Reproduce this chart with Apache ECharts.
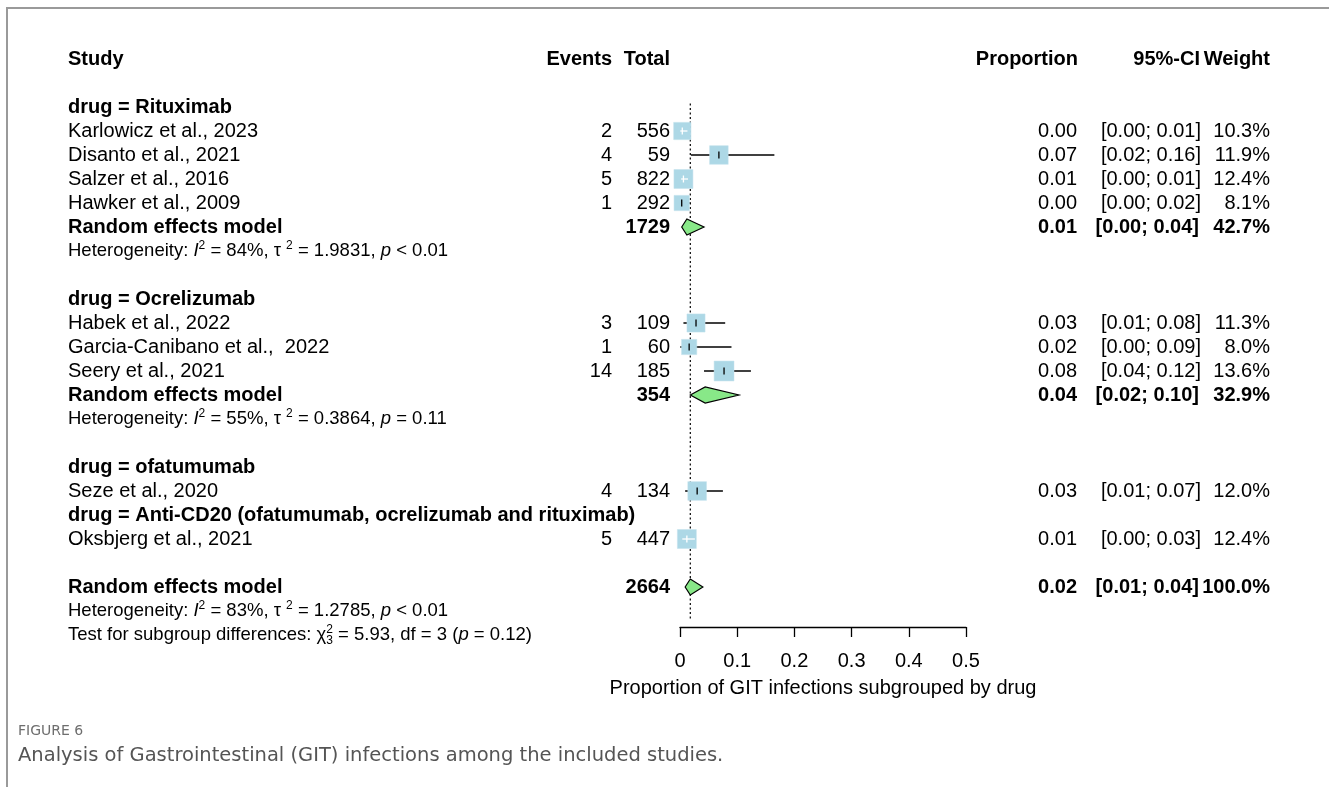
<!DOCTYPE html>
<html lang="en">
<head>
<meta charset="UTF-8">
<title>GIT infections forest plot</title>
<script src="https://cdn.jsdelivr.net/npm/echarts@6/dist/echarts.min.js"></script>
<style>
  html, body { margin: 0; width: 100%; height: 100%; background: #fff; }
  #chart { width: 1329px; height: 787px; }
</style>
</head>
<body>
<div id="chart"></div>
<script>
// ---- data ----
var groupNames = ['drug = Rituximab', 'drug = Ocrelizumab', 'drug = ofatumumab',
  'drug = Anti-CD20 (ofatumumab, ocrelizumab and rituximab)'];
var studyNames = ['Karlowicz et al., 2023', 'Disanto et al., 2021', 'Salzer et al., 2016',
  'Hawker et al., 2009', 'Habek et al., 2022', 'Garcia-Canibano et al.,  2022',
  'Seery et al., 2021', 'Seze et al., 2020', 'Oksbjerg et al., 2021'];
var studyGroup = [0, 0, 0, 0, 1, 1, 1, 2, 3];
var events = [2, 4, 5, 1, 3, 1, 14, 4, 5];
var totals = [556, 59, 822, 292, 109, 60, 185, 134, 447];
var props = [0.004, 0.068, 0.006, 0.003, 0.028, 0.016, 0.077, 0.030, 0.012];
var ciLow = [0.0005, 0.019, 0.002, 0.0001, 0.006, 0.0005, 0.042, 0.009, 0.004];
var ciHigh = [0.013, 0.165, 0.014, 0.019, 0.079, 0.090, 0.124, 0.075, 0.026];
var propLabels = ['0.00', '0.07', '0.01', '0.00', '0.03', '0.02', '0.08', '0.03', '0.01'];
var ciLabels = ['[0.00; 0.01]', '[0.02; 0.16]', '[0.00; 0.01]', '[0.00; 0.02]', '[0.01; 0.08]',
  '[0.00; 0.09]', '[0.04; 0.12]', '[0.01; 0.07]', '[0.00; 0.03]'];
var weights = [10.3, 11.9, 12.4, 8.1, 11.3, 8.0, 13.6, 12.0, 12.4];

// random effects model per subgroup (null = single study)
var pooledTotal = [1729, 354, null, null];
var pooledProp = [0.012, 0.044, null, null];
var pooledLow = [0.003, 0.018, null, null];
var pooledHigh = [0.042, 0.103, null, null];
var pooledPropLabels = ['0.01', '0.04', null, null];
var pooledCiLabels = ['[0.00; 0.04]', '[0.02; 0.10]', null, null];
var pooledWeights = ['42.7%', '32.9%', null, null];
var hetI2 = ['84%', '55%', null, null];
var hetTau2 = ['1.9831', '0.3864', null, null];
var hetP = ['< 0.01', '= 0.11', null, null];

// overall model
var overallTotal = 2664;
var overallProp = 0.018, overallLow = 0.009, overallHigh = 0.040;
var overallLabels = ['0.02', '[0.01; 0.04]', '100.0%'];
var overallHet = ['83%', '1.2785', '< 0.01'];
var subgroupTest = ['5.93', '3', '= 0.12'];

var headers = ['Study', 'Events', 'Total', 'Proportion', '95%-CI', 'Weight'];
var axisTitle = 'Proportion of GIT infections subgrouped by drug';

// ---- row layout ----
var FONT = '"Liberation Sans", Arial, Helvetica, sans-serif';
var F = 20, FS = 18.5;
var COL = { study: 68, events: 612, total: 670, prop: 1077, ci: 1201, weight: 1270 };
var rows = [{ kind: 'head', y: 0 }];
var studyRow = [], pooledRow = [];
var r = 2, lastBlank = false;
groupNames.forEach(function (g, gi) {
  rows.push({ kind: 'group', y: r++, g: gi });
  studyNames.forEach(function (s, i) {
    if (studyGroup[i] !== gi) return;
    studyRow[i] = r;
    rows.push({ kind: 'study', y: r++, i: i });
  });
  lastBlank = false;
  if (pooledTotal[gi] != null) {
    pooledRow[gi] = r;
    rows.push({ kind: 'pooled', y: r++, g: gi });
    rows.push({ kind: 'het', y: r++, g: gi });
    r++;
    lastBlank = true;
  }
});
if (!lastBlank) r++;
var overallRow = r;
rows.push({ kind: 'overall', y: r });
rows.push({ kind: 'ohet', y: r + 1 });
rows.push({ kind: 'test', y: r + 2 });

var hetRich = {
  n: { fontSize: FS, fontFamily: FONT, fill: '#000', lineHeight: 22 },
  i: { fontSize: FS, fontFamily: FONT, fill: '#000', fontStyle: 'italic', lineHeight: 22 },
  s: { fontSize: 12, fontFamily: FONT, fill: '#000', verticalAlign: 'top', lineHeight: 12 }
};
function hetString(i2, tau, p) {
  return '{n|Heterogeneity: }{i|I}{s|2}{n| = ' + i2 + ', \u03c4 }{s|2}{n| = ' + tau + ', }{i|p}{n| ' + p + '}';
}

function renderTable(params, api) {
  var row = rows[params.dataIndex];
  var y = api.coord([0, row.y])[1];
  var kids = [];
  function txt(s, x, align, bold) {
    kids.push({ type: 'text', x: x, y: y, style: {
      text: String(s), align: align, verticalAlign: 'middle', fontSize: F,
      fontWeight: bold ? 'bold' : 'normal', fontFamily: FONT, fill: '#000' } });
  }
  if (row.kind === 'head') {
    txt(headers[0], COL.study, 'left', true); txt(headers[1], COL.events, 'right', true);
    txt(headers[2], COL.total, 'right', true); txt(headers[3], COL.prop + 1, 'right', true);
    txt(headers[4], COL.ci - 1, 'right', true); txt(headers[5], COL.weight, 'right', true);
  } else if (row.kind === 'group') {
    txt(groupNames[row.g], COL.study, 'left', true);
  } else if (row.kind === 'study') {
    var i = row.i;
    txt(studyNames[i], COL.study, 'left'); txt(events[i], COL.events, 'right'); txt(totals[i], COL.total, 'right');
    txt(propLabels[i], COL.prop, 'right'); txt(ciLabels[i], COL.ci, 'right');
    txt(weights[i].toFixed(1) + '%', COL.weight, 'right');
  } else if (row.kind === 'pooled') {
    var g = row.g;
    txt('Random effects model', COL.study, 'left', true); txt(pooledTotal[g], COL.total, 'right', true);
    txt(pooledPropLabels[g], COL.prop, 'right', true); txt(pooledCiLabels[g], COL.ci - 2, 'right', true);
    txt(pooledWeights[g], COL.weight, 'right', true);
  } else if (row.kind === 'overall') {
    txt('Random effects model', COL.study, 'left', true); txt(overallTotal, COL.total, 'right', true);
    txt(overallLabels[0], COL.prop, 'right', true); txt(overallLabels[1], COL.ci - 2, 'right', true);
    txt(overallLabels[2], COL.weight, 'right', true);
  } else if (row.kind === 'het' || row.kind === 'ohet') {
    var h = row.kind === 'het' ? [hetI2[row.g], hetTau2[row.g], hetP[row.g]] : overallHet;
    kids.push({ type: 'text', x: COL.study, y: y, style: {
      text: hetString(h[0], h[1], h[2]), rich: hetRich, align: 'left', verticalAlign: 'middle' } });
  } else if (row.kind === 'test') {
    var pre = 'Test for subgroup differences: \u03c7';
    kids.push({ type: 'text', x: COL.study, y: y, style: {
      text: '{n|' + pre + '}{s|2}{n| = ' + subgroupTest[0] + ', df = ' + subgroupTest[1] + ' (}{i|p}{n| ' + subgroupTest[2] + ')}',
      rich: hetRich, align: 'left', verticalAlign: 'middle' } });
    var ctx = document.createElement('canvas').getContext('2d');
    ctx.font = FS + 'px ' + FONT;
    var w = ctx.measureText(pre).width;
    kids.push({ type: 'text', x: COL.study + w, y: y + 6, style: {
      text: '3', fontSize: 12, fontFamily: FONT, fill: '#000', align: 'left', verticalAlign: 'middle' } });
  }
  return { type: 'group', children: kids };
}

function renderStudy(params, api) {
  var est = api.value(0), rowY = api.value(1), lo = api.value(2), hi = api.value(3), wt = api.value(4);
  var c = api.coord([est, rowY]);
  var l = api.coord([lo, rowY])[0], h = api.coord([hi, rowY])[0];
  var side = 5.4 * Math.sqrt(wt);
  var inside = l >= c[0] - side / 2 && h <= c[0] + side / 2;
  var col = inside ? '#fff' : '#000';
  var line = { type: 'line', shape: { x1: l, y1: c[1], x2: h, y2: c[1] }, style: { stroke: col, lineWidth: 1.3 } };
  var box = { type: 'rect', shape: { x: c[0] - side / 2, y: c[1] - side / 2, width: side, height: side },
    style: { fill: '#add8e6', stroke: '#c4e2ec', lineWidth: 0.5 } };
  var tick = { type: 'line', shape: { x1: c[0], y1: c[1] - 3.5, x2: c[0], y2: c[1] + 3.5 }, style: { stroke: col, lineWidth: 1.3 } };
  return { type: 'group', children: inside ? [box, line, tick] : [line, box, tick] };
}

function renderDiamond(params, api) {
  var est = api.value(0), rowY = api.value(1), lo = api.value(2), hi = api.value(3);
  var c = api.coord([est, rowY]);
  var l = api.coord([lo, rowY])[0], h = api.coord([hi, rowY])[0];
  return { type: 'polygon', shape: { points: [[l, c[1]], [c[0], c[1] - 8], [h, c[1]], [c[0], c[1] + 8]] },
    style: { fill: '#88e888', stroke: '#000', lineWidth: 1.2 } };
}

function renderRef(params, api) {
  var top = api.coord([api.value(0), 1.85]), bot = api.coord([api.value(0), 23.4]);
  return { type: 'line', shape: { x1: top[0], y1: top[1], x2: bot[0], y2: bot[1] },
    style: { stroke: '#000', lineWidth: 1.2, lineDash: [2, 2.5] } };
}

var studyData = props.map(function (p, i) { return [p, studyRow[i], ciLow[i], ciHigh[i], weights[i]]; });
var diamondData = [];
pooledProp.forEach(function (p, g) {
  if (p != null) diamondData.push([p, pooledRow[g], pooledLow[g], pooledHigh[g]]);
});
diamondData.push([overallProp, overallRow, overallLow, overallHigh]);

var chart = echarts.init(document.getElementById('chart'));
chart.setOption({
  animation: false,
  textStyle: { fontFamily: FONT },
  grid: { left: 680, width: 286, top: 59, height: 568 },
  xAxis: {
    type: 'value', min: 0, max: 0.5, interval: 0.1, position: 'bottom',
    axisLine: { onZero: false, lineStyle: { color: '#000', width: 1.3 } },
    axisTick: { length: 10, lineStyle: { color: '#000', width: 1.3 } },
    axisLabel: { color: '#000', fontSize: F, margin: 24, fontFamily: FONT },
    splitLine: { show: false },
    name: axisTitle, nameLocation: 'middle', nameGap: 51,
    nameTextStyle: { color: '#000', fontSize: F, fontFamily: FONT }
  },
  yAxis: { type: 'value', inverse: true, min: 0, max: 568 / 24, show: false },
  graphic: [
    { type: 'polyline', shape: { points: [[1329, 8], [7, 8], [7, 787]] }, style: { stroke: '#9a9a9a', lineWidth: 2, fill: null } },
    { type: 'text', left: 18, top: 724, style: { text: 'FIGURE 6', fontSize: 14, fill: '#6e6e6e', fontFamily: '"DejaVu Sans", sans-serif' } },
    { type: 'text', left: 18, top: 746, style: { text: 'Analysis of Gastrointestinal (GIT) infections among the included studies.', fontSize: 19.5, fill: '#555', fontFamily: '"DejaVu Sans", sans-serif' } }
  ],
  series: [
    { type: 'custom', name: 'ref', renderItem: renderRef, data: [[overallProp, 0]], encode: { x: 0, y: 1 }, silent: true, z: 1 },
    { type: 'custom', name: 'studies', renderItem: renderStudy, data: studyData, encode: { x: 0, y: 1 }, silent: true, z: 2 },
    { type: 'custom', name: 'pooled', renderItem: renderDiamond, data: diamondData, encode: { x: 0, y: 1 }, silent: true, z: 3 },
    { type: 'custom', name: 'table', renderItem: renderTable, data: rows.map(function (o) { return [0, o.y]; }), encode: { x: 0, y: 1 }, silent: true, z: 4 }
  ]
});
</script>
</body>
</html>
